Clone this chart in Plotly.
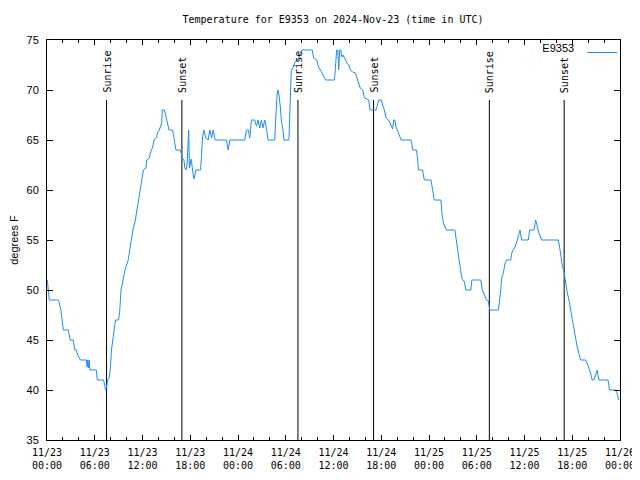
import pandas as pd
import plotly.graph_objects as go

# ---- data ----
start_time = "2024-11-23 00:00"
hours_since_start = [
    0.04, 0.16, 0.29, 1.45, 1.60, 1.75, 1.90, 2.05, 2.67, 2.80,
    2.92, 3.30, 3.40, 3.50, 3.70, 3.80, 4.20, 4.95, 5.05, 5.12,
    5.20, 5.30, 5.40, 6.20, 6.32, 7.10, 7.25, 7.35, 7.48, 7.60,
    7.80, 7.95, 8.10, 8.25, 8.45, 8.60, 9.00, 9.15, 9.30, 9.55,
    9.80, 10.20, 10.40, 10.80, 11.10, 11.30, 11.60, 11.90, 12.11, 12.44,
    12.53, 12.86, 13.03, 13.28, 13.45, 13.78, 13.86, 14.11, 14.41, 14.49,
    14.74, 14.91, 15.11, 15.33, 15.79, 15.86, 16.08, 16.20, 16.70, 16.83,
    16.99, 17.21, 17.33, 17.46, 17.60, 17.72, 17.80, 17.90, 18.12, 18.29,
    18.46, 18.58, 18.71, 19.30, 19.42, 19.55, 19.71, 19.96, 20.25, 20.46,
    20.68, 20.88, 21.13, 22.56, 22.76, 22.97, 24.85, 25.06, 25.31, 25.48,
    25.69, 26.10, 26.32, 26.52, 26.73, 26.94, 27.14, 27.36, 27.57, 27.77,
    28.61, 28.73, 28.90, 29.02, 29.15, 29.32, 29.45, 29.65, 29.77, 30.40,
    30.49, 30.70, 30.90, 31.12, 31.40, 31.65, 31.83, 32.03, 33.33, 33.50,
    33.91, 34.12, 34.37, 34.59, 35.00, 36.13, 36.25, 36.40, 36.55, 36.65,
    36.78, 36.92, 37.05, 37.20, 37.50, 37.67, 37.92, 38.13, 38.42, 38.76,
    38.92, 39.14, 39.35, 39.67, 39.89, 40.43, 40.60, 41.35, 41.55, 41.68,
    41.98, 42.18, 42.39, 42.61, 42.93, 43.11, 43.31, 43.43, 43.56, 43.71,
    43.86, 44.06, 44.27, 44.49, 45.74, 45.86, 45.94, 46.44, 46.57, 46.69,
    47.19, 47.41, 48.25, 48.45, 48.66, 49.50, 49.62, 49.82, 50.04, 50.20,
    51.25, 51.45, 51.70, 51.88, 52.00, 52.21, 52.42, 52.63, 53.26, 53.38,
    54.51, 54.71, 54.92, 55.21, 55.46, 55.64, 56.72, 56.89, 57.02, 57.14,
    57.34, 57.56, 57.77, 58.27, 58.40, 58.56, 58.81, 59.02, 59.22, 59.44,
    59.65, 60.48, 60.65, 61.19, 61.40, 61.60, 61.82, 62.16, 64.24, 64.41,
    64.54, 64.74, 64.99, 65.16, 65.36, 65.58, 65.79, 65.99, 66.20, 66.42,
    66.62, 66.83, 67.04, 67.67, 67.87, 68.08, 68.30, 68.50, 68.71, 68.92,
    69.12, 69.34, 70.50, 70.68, 71.43, 71.63, 71.84,
]
temp_f = [
    51, 50, 49, 49, 48.5, 48, 47, 46, 46, 45.5,
    45, 45, 44.5, 44, 44, 43.6, 43, 43, 42.3, 43,
    42.2, 43, 42, 42, 41, 41, 40.5, 40, 40.2, 41,
    41.2, 42, 44, 45, 46.5, 47, 47, 48, 50, 51,
    52, 53, 54, 56, 57, 58, 59.2, 60.8, 62, 62.2,
    63, 63.2, 63.8, 64.3, 65, 65.2, 65.7, 66, 66.7, 68,
    68, 67.5, 66.8, 66, 66, 65.7, 64.8, 64, 64, 63.8,
    63.2, 63, 62.2, 62, 62.5, 66, 66, 62.2, 63.1, 62,
    61.1, 61.5, 62, 62, 64.2, 65.3, 66, 65.2, 65, 66,
    65.2, 66, 65, 65, 64, 65, 65, 66, 66, 65.2,
    67, 67, 66.4, 67, 66.2, 67, 66.2, 67, 66.2, 65,
    65, 67, 69.5, 70, 69.5, 68.3, 67, 66, 65, 65,
    67, 72, 72.2, 72.7, 73, 73.2, 73.7, 74, 74, 73.2,
    73, 72.3, 72, 71.7, 71, 71, 72.5, 74, 74, 72,
    74, 74, 73.3, 73.5, 73, 72.7, 72.5, 72, 71.8, 71.7,
    71.3, 70.7, 70.2, 70, 69.2, 69, 68, 68, 68.7, 69,
    69, 68.5, 68, 67.2, 67, 66.7, 66.2, 66.1, 67, 67,
    66.3, 65.8, 65.5, 65, 65, 64.5, 64, 64, 63, 62,
    62, 61, 61, 60.2, 59, 59, 57.7, 56.7, 56.3, 56,
    56, 54.8, 53.7, 52.7, 51.8, 51, 50.9, 50, 50, 51,
    51, 50, 49.5, 49, 48.9, 48, 48, 49, 50, 51.2,
    51.7, 52.7, 53, 53, 53.7, 54, 54.3, 54.8, 55.5, 56,
    55, 55, 56, 56, 57, 56.3, 55.7, 55, 55, 54.3,
    53.5, 52.5, 51.7, 50.7, 49.8, 49, 48, 47, 46, 45.3,
    44.3, 43.7, 43, 43, 42.7, 42.2, 41.7, 41, 41, 41.5,
    42, 41, 41, 40, 40, 39.7, 39,
]

sun_event_times = ["2024-11-23 07:29", "2024-11-23 16:57",
                   "2024-11-24 07:32", "2024-11-24 17:02",
                   "2024-11-25 07:35", "2024-11-25 16:59"]
sun_event_labels = ["Sunrise", "Sunset", "Sunrise", "Sunset", "Sunrise", "Sunset"]
sun_line_top = 69

tick_times = ["2024-11-23 00:00", "2024-11-23 06:00", "2024-11-23 12:00", "2024-11-23 18:00",
              "2024-11-24 00:00", "2024-11-24 06:00", "2024-11-24 12:00", "2024-11-24 18:00",
              "2024-11-25 00:00", "2024-11-25 06:00", "2024-11-25 12:00", "2024-11-25 18:00",
              "2024-11-26 00:00"]
tick_labels = ["11/23<br>00:00", "11/23<br>06:00", "11/23<br>12:00", "11/23<br>18:00",
               "11/24<br>00:00", "11/24<br>06:00", "11/24<br>12:00", "11/24<br>18:00",
               "11/25<br>00:00", "11/25<br>06:00", "11/25<br>12:00", "11/25<br>18:00",
               "11/26<br>00:00"]
y_range = [35, 75]
series_name = "E9353"

# ---- build ----
times = pd.Timestamp(start_time) + pd.to_timedelta(hours_since_start, unit="h")

MONO = "DejaVu Sans Mono"
SANS = "Liberation Sans"

# the page body adds an 8px offset, so the figure is 8px smaller than the window
FIG_W, FIG_H = 632, 472

fig = go.Figure()

sx, sy = [], []
for t in sun_event_times:
    sx += [t, t, None]
    sy += [y_range[0], sun_line_top, None]
fig.add_trace(go.Scatter(x=sx, y=sy, mode="lines", line=dict(color="black", width=1),
                         showlegend=False, hoverinfo="skip"))

fig.add_trace(go.Scatter(x=times, y=temp_f, mode="lines", name=" ",
                         line=dict(color="#1a8cff", width=1)))

for t, lab in zip(sun_event_times, sun_event_labels):
    fig.add_annotation(x=t, y=sun_line_top, text=lab, textangle=-90, showarrow=False,
                       xanchor="center", yanchor="bottom", yshift=5,
                       font=dict(family=MONO, size=10, color="black"))

fig.update_layout(
    width=FIG_W, height=FIG_H, autosize=False,
    margin=dict(l=39, r=20, t=32, b=40, autoexpand=False),
    paper_bgcolor="white", plot_bgcolor="white",
    title=dict(text="Temperature for E9353 on 2024-Nov-23 (time in UTC)",
               x=325 / FIG_W, xanchor="center", y=1 - 11 / FIG_H, yanchor="middle",
               yref="container", font=dict(family=MONO, size=10, color="black")),
    legend=dict(x=0.861, y=1.005, xanchor="left", yanchor="top",
                bgcolor="rgba(0,0,0,0)", borderwidth=0,
                title=dict(text=series_name, side="left", font=dict(family=SANS, size=11, color="black")),
                font=dict(family=SANS, size=11, color="black")),
    showlegend=True,
)

fig.update_xaxes(
    type="date", range=[tick_times[0], tick_times[-1]], automargin=False,
    tickmode="array", tickvals=tick_times, ticktext=tick_labels,
    ticks="inside", ticklen=5, tickcolor="black", tickwidth=1,
    minor=dict(ticks="inside", ticklen=3, dtick=2 * 3600 * 1000, tick0=tick_times[0],
               tickcolor="black", tickwidth=1),
    showline=True, linecolor="black", linewidth=1, mirror="ticks",
    showgrid=False, zeroline=False,
    tickfont=dict(family=MONO, size=10, color="black"),
    ticklabelstandoff=3,
)
fig.update_yaxes(
    range=y_range, dtick=5, tick0=35, automargin=False,
    ticks="inside", ticklen=6, tickcolor="black", tickwidth=1,
    showline=True, linecolor="black", linewidth=1, mirror="ticks",
    showgrid=False, zeroline=False,
    tickfont=dict(family=SANS, size=11, color="black"),
    ticklabelstandoff=5,
    title=dict(text="degrees F", font=dict(family=SANS, size=11, color="black"), standoff=5),
)

fig.write_html("out.html")
